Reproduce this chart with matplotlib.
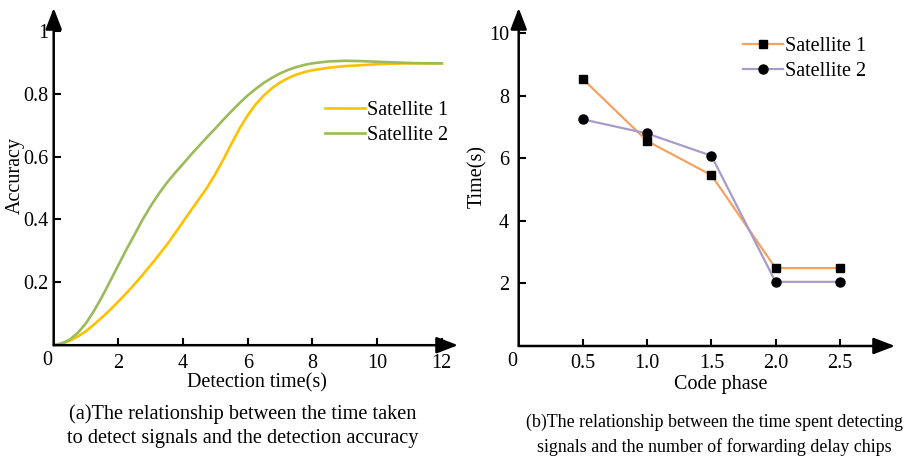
import matplotlib
matplotlib.use('Agg')
import matplotlib.pyplot as plt
import numpy as np

plt.rcParams['font.family'] = ['Liberation Serif', 'DejaVu Serif']

# (a) detection time vs accuracy
det_time = [0, 0.25, 0.5, 0.75, 1, 1.25, 1.5, 1.75, 2, 2.25, 2.5, 2.75, 3,
            3.25, 3.5, 3.75, 4, 4.25, 4.5, 4.75, 5, 5.25, 5.5, 5.75, 6, 6.25,
            6.5, 6.75, 7, 7.25, 7.5, 7.75, 8, 8.5, 9, 9.5, 10, 10.5, 11,
            11.5, 12]
acc_sat1 = [0, 0.005, 0.014, 0.028, 0.045, 0.066, 0.089, 0.113, 0.139,
            0.166, 0.194, 0.224, 0.255, 0.287, 0.32, 0.356, 0.393, 0.43,
            0.466, 0.503, 0.545, 0.592, 0.642, 0.69, 0.732, 0.767, 0.795,
            0.818, 0.836, 0.85, 0.861, 0.869, 0.875, 0.883, 0.888, 0.891,
            0.894, 0.896, 0.897, 0.897, 0.897]
acc_sat2 = [0, 0.006, 0.018, 0.04, 0.07, 0.11, 0.155, 0.205, 0.255, 0.305,
            0.352, 0.4, 0.443, 0.482, 0.517, 0.548, 0.577, 0.607, 0.635,
            0.663, 0.69, 0.718, 0.745, 0.771, 0.795, 0.816, 0.835, 0.851,
            0.865, 0.876, 0.885, 0.892, 0.897, 0.903, 0.905, 0.904, 0.902,
            0.9, 0.898, 0.897, 0.897]

# (b) code phase vs time
code_phase = [0.5, 1.0, 1.5, 2.0, 2.5]
time_sat1 = [8.53, 6.55, 5.46, 2.49, 2.49]
time_sat2 = [7.24, 6.79, 6.08, 2.05, 2.05]

W, H = 919, 457
fig = plt.figure(figsize=(W / 100, H / 100), dpi=100)

FS = 14.5


def px(x, y):
    return x / W, 1 - y / H


def draw_axes_arrows(ax):
    for s in ax.spines.values():
        s.set_visible(False)
    arrow = dict(arrowstyle='-|>,head_length=0.65,head_width=0.25',
                 color='black', lw=1.8, shrinkA=0, shrinkB=0,
                 mutation_scale=20)
    ax.annotate('', xy=(1, 0), xytext=(0, 0), xycoords='axes fraction',
                arrowprops=arrow, annotation_clip=False)
    ax.annotate('', xy=(0, 1), xytext=(0, 0), xycoords='axes fraction',
                arrowprops=arrow, annotation_clip=False)


# ---- left panel
ax1 = fig.add_axes([53.7 / W, 1 - 345.2 / H, 404.3 / W, 337.2 / H])
ax1.plot(det_time, acc_sat1, color='#FFC000', lw=1.9, label='Satellite 1',
         solid_joinstyle='round')
ax1.plot(det_time, acc_sat2, color='#9BBB59', lw=1.9, label='Satellite 2',
         solid_joinstyle='round')
ax1.set_xlim(0, 12.5)
ax1.set_ylim(0, 1.073)
ax1.set_xticks([2, 4, 6, 8, 10, 12])
ax1.set_yticks([0.2, 0.4, 0.6, 0.8, 1])
ax1.set_yticklabels(['0.2', '0.4', '0.6', '0.8', '1'])
ax1.tick_params(direction='in', length=5, width=1.5, labelsize=FS)
ax1.tick_params(axis='x', pad=6)
ax1.tick_params(axis='y', pad=4)
draw_axes_arrows(ax1)
ax1.annotate('0', xy=(0, 0), xytext=(-5, -11), textcoords='offset points',
             ha='center', va='center', fontsize=FS, annotation_clip=False)
ax1.legend(loc='upper left', bbox_to_anchor=(0.671, 0.724), frameon=False,
           fontsize=FS, handlelength=2.0, handletextpad=0.1,
           labelspacing=0.3, borderpad=0, borderaxespad=0)

# ---- right panel
ax2 = fig.add_axes([518.7 / W, 1 - 346 / H, 376.3 / W, 338 / H])
ax2.plot(code_phase, time_sat1, color='#F4A261', lw=1.6, marker='s',
         ms=5.5, mfc='black', mec='black', label='Satellite 1')
ax2.plot(code_phase, time_sat2, color='#A89BC8', lw=1.6, marker='o',
         ms=6.5, mfc='black', mec='black', label='Satellite 2')
ax2.set_xlim(0, 2.93)
ax2.set_ylim(0, 10.8)
ax2.set_xticks(code_phase)
ax2.set_xticklabels(['0.5', '1.0', '1.5', '2.0', '2.5'])
ax2.set_yticks([2, 4, 6, 8, 10])
ax2.tick_params(direction='in', length=5, width=1.5, labelsize=FS)
ax2.tick_params(axis='x', pad=6)
ax2.tick_params(axis='y', pad=7)
draw_axes_arrows(ax2)
ax2.annotate('0', xy=(0, 0), xytext=(-5, -11), textcoords='offset points',
             ha='center', va='center', fontsize=FS, annotation_clip=False)
ax2.legend(loc='upper left', bbox_to_anchor=(0.596, 0.914), frameon=False,
           fontsize=FS, handlelength=2.0, handletextpad=0.1,
           labelspacing=0.3, borderpad=0, borderaxespad=0)

# axis labels
fig.text(*px(15, 175), 'Accuracy', rotation=90, ha='center', va='center', fontsize=FS)
fig.text(*px(257, 383), 'Detection time(s)', ha='center', va='center', fontsize=FS)
fig.text(*px(478, 177), 'Time(s)', rotation=90, ha='center', va='center', fontsize=FS)
fig.text(*px(721, 384), 'Code phase', ha='center', va='center', fontsize=FS)

# captions
fig.text(*px(243, 414), '(a)The relationship between the time taken',
         ha='center', va='center', fontsize=14.6)
fig.text(*px(243, 438), 'to detect signals and the detection accuracy',
         ha='center', va='center', fontsize=14.6)
fig.text(*px(714, 422), '(b)The relationship between the time spent detecting',
         ha='center', va='center', fontsize=12.9)
fig.text(*px(714, 447), 'signals and the number of forwarding delay chips',
         ha='center', va='center', fontsize=12.9)

fig.savefig('out.png', dpi=100)
